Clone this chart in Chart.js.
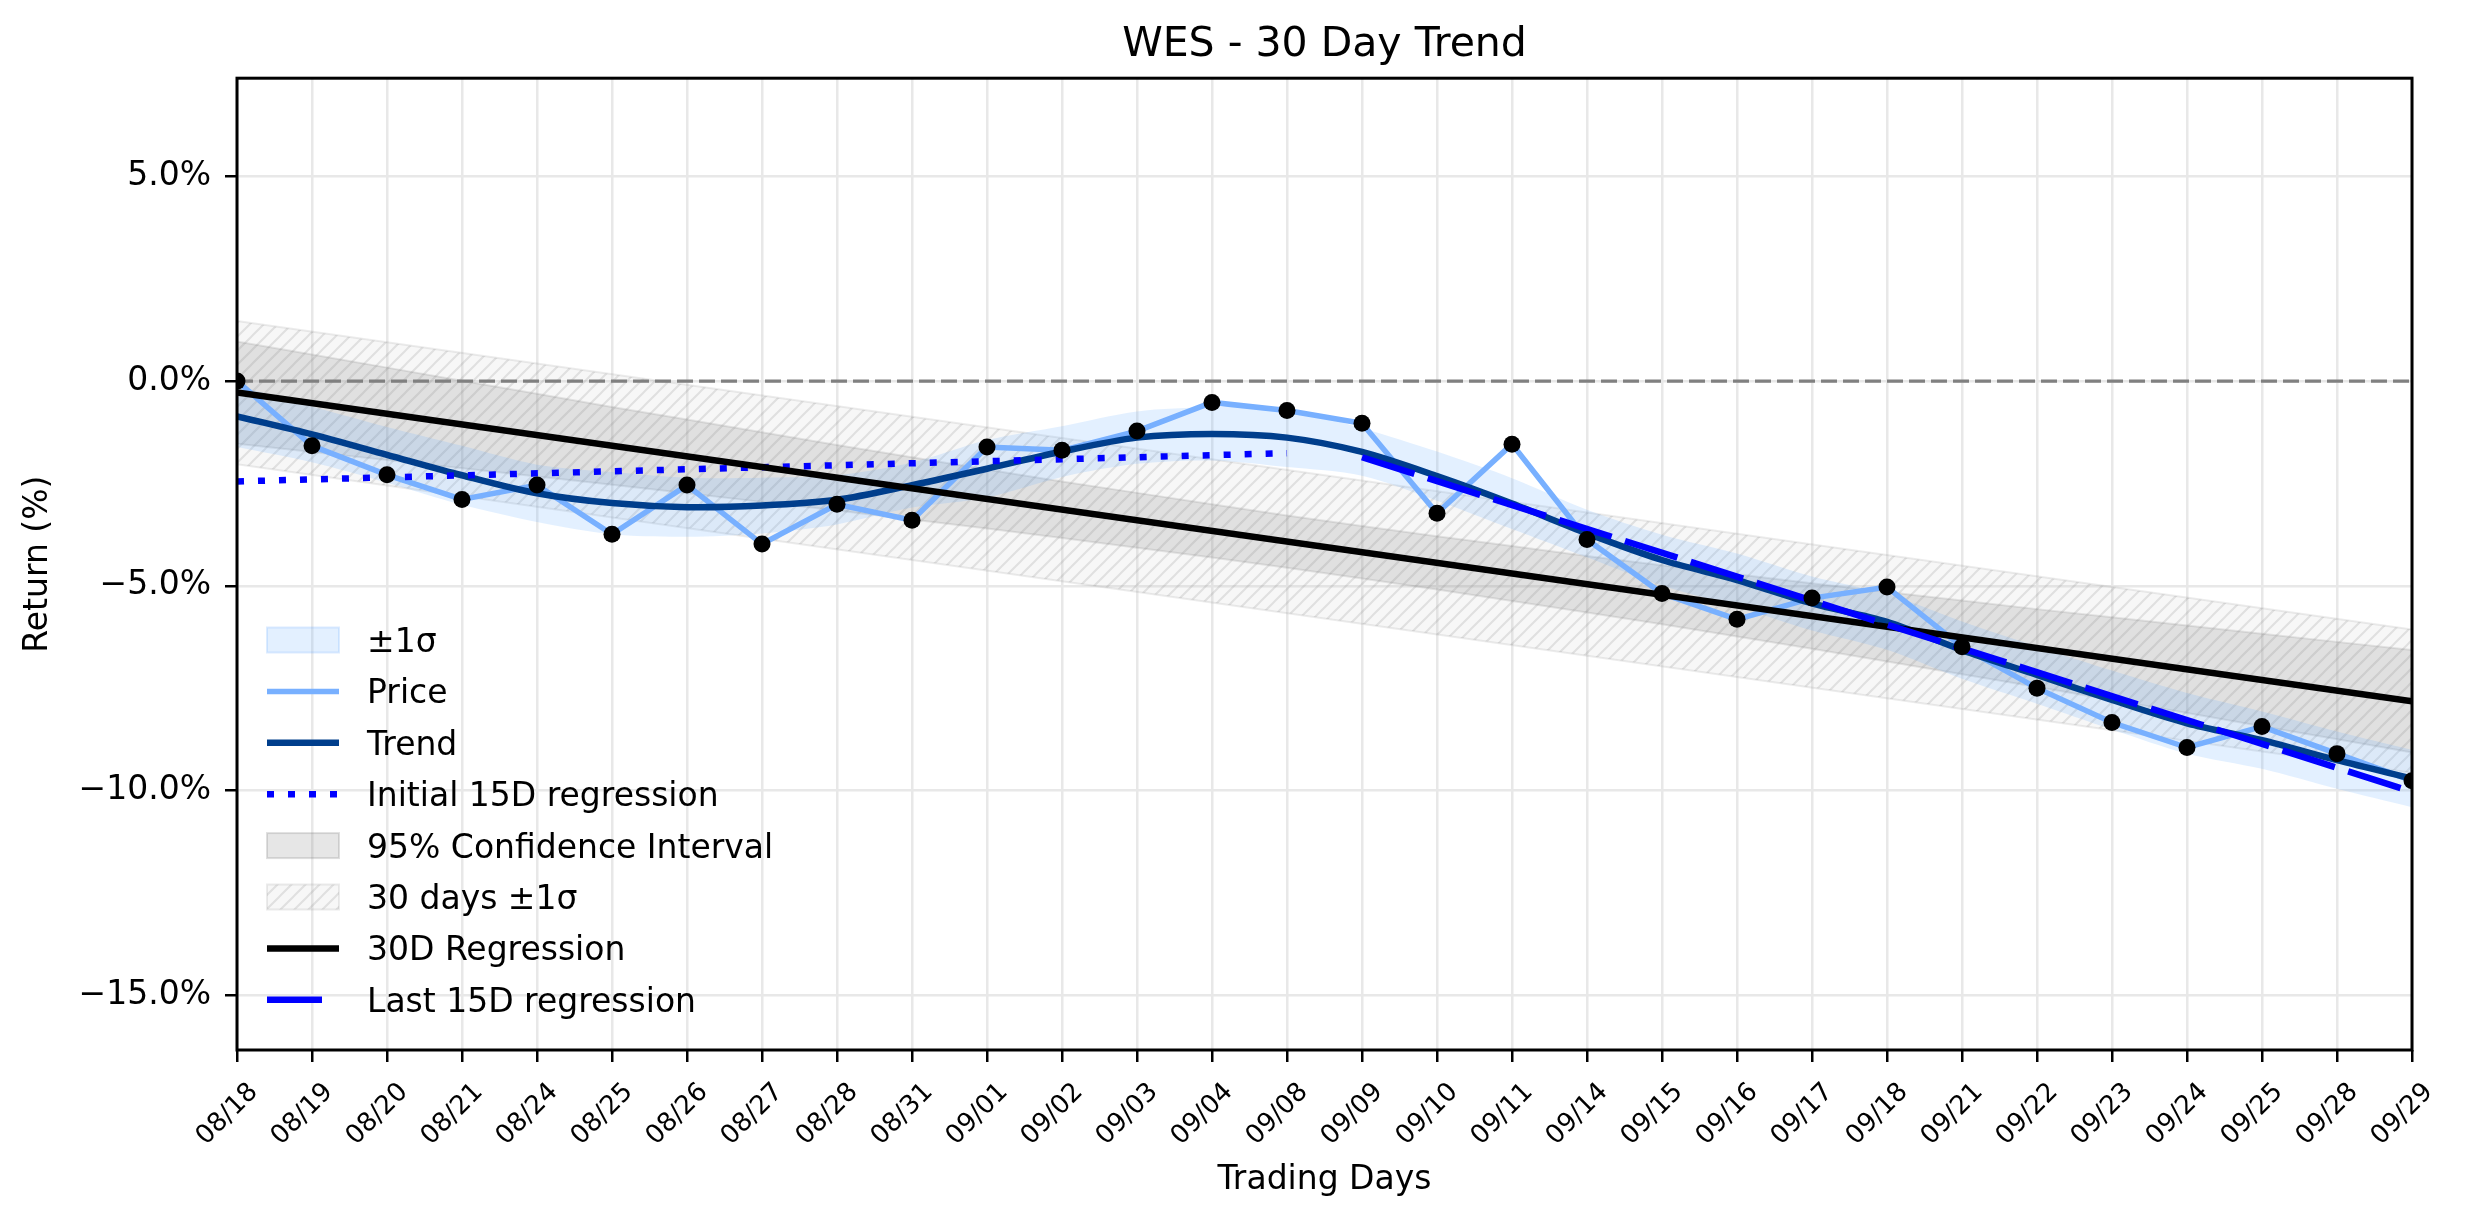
<!DOCTYPE html>
<html>
<head>
<meta charset="utf-8">
<title>WES - 30 Day Trend</title>
<script src="https://cdn.jsdelivr.net/npm/chart.js@4.4.0/dist/chart.umd.min.js"></script>
<style>
  html, body { margin: 0; padding: 0; background: #fff; }
  #wrap { width: 2474px; height: 1224px; }
</style>
</head>
<body>
<div id="wrap"><canvas id="trendChart"></canvas></div>
<script>
// trading days on the x axis
const dates = ['08/18', '08/19', '08/20', '08/21', '08/24', '08/25', '08/26', '08/27', '08/28', '08/31',
               '09/01', '09/02', '09/03', '09/04', '09/08', '09/09', '09/10', '09/11', '09/14', '09/15',
               '09/16', '09/17', '09/18', '09/21', '09/22', '09/23', '09/24', '09/25', '09/28', '09/29'];

// cumulative return (%)
const priceReturn = [0.00, -1.58, -2.29, -2.89, -2.54, -3.74, -2.54, -3.98, -3.01, -3.40,
                     -1.61, -1.69, -1.22, -0.52, -0.72, -1.03, -3.23, -1.54, -3.87, -5.19,
                     -5.82, -5.30, -5.03, -6.49, -7.50, -8.34, -8.95, -8.44, -9.10, -9.76];

const trendReturn = [-0.86, -1.30, -1.80, -2.30, -2.74, -2.98, -3.08, -3.04, -2.90, -2.54,
                     -2.14, -1.72, -1.38, -1.29, -1.38, -1.73, -2.32, -2.99, -3.72, -4.37,
                     -4.86, -5.43, -5.88, -6.57, -7.18, -7.79, -8.36, -8.77, -9.26, -9.71];

// +/- 1 sigma band around the trend
const sigmaUpper = [-0.11, -0.62, -1.12, -1.58, -2.04, -2.22, -2.36, -2.36, -2.30, -1.99,
                    -1.44, -1.10, -0.74, -0.64, -0.66, -1.15, -1.72, -2.37, -3.14, -3.75,
                    -4.21, -4.77, -5.20, -5.87, -6.48, -7.07, -7.62, -8.07, -8.56, -9.01];
const sigmaLower = [-1.61, -1.98, -2.48, -3.02, -3.44, -3.74, -3.80, -3.72, -3.50, -3.09,
                    -2.84, -2.34, -2.02, -1.94, -2.10, -2.31, -2.92, -3.61, -4.30, -4.99,
                    -5.51, -6.09, -6.56, -7.27, -7.88, -8.51, -9.10, -9.47, -9.96, -10.41];

// 95% confidence interval of the 30 day regression
const ciUpper = [0.97, 0.65, 0.33, 0.01, -0.31, -0.63, -0.94, -1.25, -1.56, -1.86,
                 -2.16, -2.45, -2.73, -3.01, -3.28, -3.54, -3.79, -4.03, -4.27, -4.50,
                 -4.72, -4.94, -5.15, -5.36, -5.57, -5.77, -5.97, -6.17, -6.37, -6.57];
const ciLower = [-1.53, -1.73, -1.93, -2.13, -2.33, -2.53, -2.74, -2.95, -3.16, -3.38,
                 -3.60, -3.83, -4.07, -4.31, -4.56, -4.82, -5.09, -5.37, -5.65, -5.94,
                 -6.24, -6.54, -6.85, -7.16, -7.47, -7.79, -8.11, -8.43, -8.75, -9.07];

// straight lines: value at first and last day
const reg30 = [-0.28, -7.82];          // 08/18 -> 09/29
const band30Upper = [1.47, -6.07];     // 08/18 -> 09/29
const band30Lower = [-2.03, -9.57];    // 08/18 -> 09/29
const initialReg = [-2.45, -1.76];     // 08/18 -> 09/08
const lastReg = [-1.86, -10.03];       // 09/09 -> 09/29
const zeroLine = [0, 0];

const yRange = [-16.34, 7.40];

function ends(vals, i0, i1) {
    return [{ x: dates[i0], y: vals[0] }, { x: dates[i1], y: vals[1] }];
}

function makeHatch() {
    const c = document.createElement('canvas');
    c.width = 14; c.height = 14;
    const g = c.getContext('2d');
    g.fillStyle = 'rgba(200, 200, 200, 0.15)';
    g.fillRect(0, 0, 14, 14);
    g.strokeStyle = 'rgba(128, 128, 128, 0.2)';
    g.lineWidth = 2;
    g.beginPath();
    g.moveTo(0, 14); g.lineTo(14, 0);
    g.moveTo(-7, 7); g.lineTo(7, -7);
    g.moveTo(7, 21); g.lineTo(21, 7);
    g.stroke();
    return g.createPattern(c, 'repeat');
}
const hatch = makeHatch();

const last = dates.length - 1;

// center the title over the plot area, not the whole canvas
const centerTitle = {
    id: 'centerTitle',
    afterLayout(chart) {
        const t = chart.titleBlock;
        if (!t) return;
        t.left = chart.chartArea.left;
        t.right = chart.chartArea.right;
        t.width = t.right - t.left;
    }
};

// draws the matplotlib style frame around the plot
const frame = {
    id: 'frame',
    afterDatasetsDraw(chart) {
        const a = chart.chartArea, ctx = chart.ctx;
        ctx.save();
        ctx.strokeStyle = '#000';
        ctx.lineWidth = 3;
        ctx.strokeRect(a.left, a.top, a.right - a.left, a.bottom - a.top);
        ctx.restore();
    }
};

// legend drawn inside the plot, lower left, no box
const insideLegend = {
    id: 'insideLegend',
    afterDraw(chart) {
        const a = chart.chartArea, ctx = chart.ctx;
        const items = chart.data.datasets.filter(d => d.legendRank)
            .sort((p, q) => p.legendRank - q.legendRank);
        const x0 = a.left + 30, w = 72;
        ctx.save();
        ctx.font = '33px "DejaVu Sans"';
        ctx.textBaseline = 'alphabetic';
        items.forEach((d, k) => {
            const cy = a.bottom - 410 + k * 51.4;
            if (d.legendBox) {
                ctx.fillStyle = d.backgroundColor;
                ctx.fillRect(x0, cy - 12.5, w, 25);
                ctx.strokeStyle = d.legendEdge;
                ctx.lineWidth = 2;
                ctx.strokeRect(x0, cy - 12.5, w, 25);
            } else {
                ctx.beginPath();
                ctx.setLineDash(d.borderDash || []);
                ctx.lineCap = 'butt';
                ctx.strokeStyle = d.borderColor;
                ctx.lineWidth = d.borderWidth;
                ctx.moveTo(x0, cy);
                ctx.lineTo(x0 + (d.legendLineLength || w), cy);
                ctx.stroke();
                ctx.setLineDash([]);
            }
            ctx.fillStyle = '#000';
            ctx.fillText(d.label, x0 + 100, cy + 12);
        });
        ctx.restore();
    }
};

const lineBase = { pointRadius: 0, pointHoverRadius: 0, pointHitRadius: 0, clip: 0 };

const chart = new Chart(document.getElementById('trendChart'), {
    type: 'line',
    data: {
        labels: dates,
        datasets: [
            // 0,1: 30 days +/- 1 sigma hatched band
            { ...lineBase, label: '', data: ends(band30Lower, 0, last), borderColor: 'rgba(128,128,128,0.15)', borderWidth: 2, fill: false, order: 10 },
            { ...lineBase, label: '30 days \u00b11\u03c3', data: ends(band30Upper, 0, last), borderColor: 'rgba(128,128,128,0.15)', borderWidth: 2,
              backgroundColor: hatch, fill: 0, order: 10, legendRank: 6, legendBox: true, legendEdge: 'rgba(128,128,128,0.15)' },
            // 2,3: 95% confidence interval
            { ...lineBase, label: '', data: ciLower, borderColor: 'rgba(128,128,128,0.18)', borderWidth: 2, fill: false, order: 9 },
            { ...lineBase, label: '95% Confidence Interval', data: ciUpper, borderColor: 'rgba(128,128,128,0.18)', borderWidth: 2,
              backgroundColor: 'rgba(128,128,128,0.2)', fill: 2, order: 9, legendRank: 5, legendBox: true, legendEdge: 'rgba(128,128,128,0.25)' },
            // 4,5: +/- 1 sigma around trend
            { ...lineBase, label: '', data: sigmaLower, borderWidth: 0, borderColor: 'rgba(0,0,0,0)', tension: 0.3, fill: false, order: 8 },
            { ...lineBase, label: '\u00b11\u03c3', data: sigmaUpper, borderWidth: 0, borderColor: 'rgba(0,0,0,0)', tension: 0.3,
              backgroundColor: 'rgba(100,170,255,0.18)', fill: 4, order: 8, legendRank: 1, legendBox: true, legendEdge: 'rgba(100,170,255,0.22)' },
            // 6: zero reference
            { ...lineBase, label: '', data: ends(zeroLine, 0, last), borderColor: '#808080', borderWidth: 3.3, borderDash: [16, 6], fill: false, order: 7 },
            // 7: price
            { ...lineBase, label: 'Price', data: priceReturn, borderColor: '#78b0ff', borderWidth: 5.5, fill: false, order: 6, legendRank: 2 },
            // 8: trend
            { ...lineBase, label: 'Trend', data: trendReturn, borderColor: '#003e8c', borderWidth: 6.5, tension: 0.3, fill: false, order: 5, legendRank: 3 },
            // 9: initial 15 day regression
            { ...lineBase, label: 'Initial 15D regression', data: ends(initialReg, 0, 14), borderColor: '#0000ff', borderWidth: 6.5,
              borderDash: [7, 14], borderCapStyle: 'butt', fill: false, order: 4, legendRank: 4 },
            // 10: 30 day regression
            { ...lineBase, label: '30D Regression', data: ends(reg30, 0, last), borderColor: '#000000', borderWidth: 6.5, fill: false, order: 3, legendRank: 7 },
            // 11: last 15 day regression
            { ...lineBase, label: 'Last 15D regression', data: ends(lastReg, 15, last), borderColor: '#0000ff', borderWidth: 6.5,
              borderDash: [55, 14], fill: false, order: 2, legendRank: 8, legendLineLength: 55 },
            // 12: price markers
            { label: '', data: priceReturn, showLine: false, pointRadius: 8.5, pointHoverRadius: 8.5, pointBackgroundColor: '#000',
              pointBorderWidth: 0, borderColor: '#000', clip: 0, fill: false, order: 1 }
        ]
    },
    options: {
        responsive: true,
        maintainAspectRatio: false,
        devicePixelRatio: 1,
        animation: false,
        events: [],
        layout: { padding: { left: 0, right: 62, top: 0, bottom: 0 } },
        plugins: {
            legend: { display: false },
            tooltip: { enabled: false },
            title: {
                display: true,
                text: 'WES - 30 Day Trend',
                color: '#000',
                font: { family: 'DejaVu Sans', size: 41, weight: 'normal' },
                padding: { top: 21, bottom: 8 }
            }
        },
        scales: {
            x: {
                type: 'category',
                offset: false,
                afterFit: s => { s.height = 174; },
                border: { display: false },
                grid: { color: '#e8e8e8', lineWidth: 2.5, tickColor: '#000', tickLength: 12, tickWidth: 2.5, offset: false },
                ticks: {
                    autoSkip: false, minRotation: 45, maxRotation: 45, labelOffset: 17, padding: 15,
                    color: '#000', font: { family: 'DejaVu Sans', size: 26 }
                },
                title: {
                    display: true, text: 'Trading Days', color: '#000',
                    font: { family: 'DejaVu Sans', size: 33 }, padding: { top: 0, bottom: 24 }
                }
            },
            y: {
                min: yRange[0],
                max: yRange[1],
                afterFit: s => { s.width = 237; },
                border: { display: false },
                grid: { color: '#e8e8e8', lineWidth: 2.5, tickColor: '#000', tickLength: 12, tickWidth: 2.5 },
                ticks: {
                    stepSize: 5, includeBounds: false, padding: 14, color: '#000',
                    font: { family: 'DejaVu Sans', size: 33 },
                    callback: v => (v < 0 ? '\u2212' : '') + Math.abs(v).toFixed(1) + '%'
                },
                title: {
                    display: true, text: 'Return (%)', color: '#000',
                    font: { family: 'DejaVu Sans', size: 33 }, padding: { top: 19, bottom: 0 }
                }
            }
        }
    },
    plugins: [centerTitle, frame, insideLegend]
});
</script>
</body>
</html>
